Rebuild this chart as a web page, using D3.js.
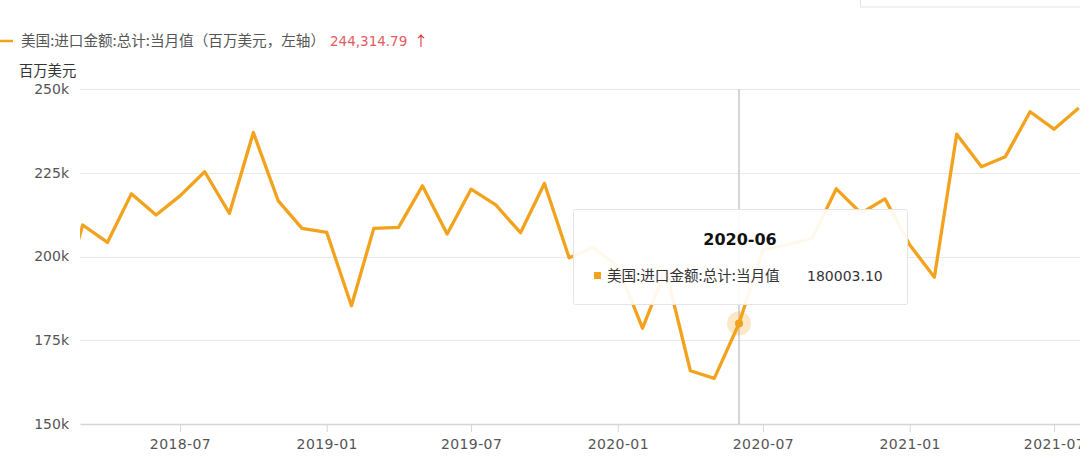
<!DOCTYPE html>
<html>
<head>
<meta charset="utf-8">
<script src="https://cdn.jsdelivr.net/npm/d3@7"></script>
<style>
  html, body { margin: 0; padding: 0; background: #fff; }
  svg { display: block; }
</style>
</head>
<body>
<svg id="chart" width="1080" height="469"></svg>
<script>
// ---------------- data ----------------
const months = [
  "2018-02","2018-03","2018-04","2018-05","2018-06","2018-07","2018-08","2018-09","2018-10","2018-11","2018-12",
  "2019-01","2019-02","2019-03","2019-04","2019-05","2019-06","2019-07","2019-08","2019-09","2019-10","2019-11","2019-12",
  "2020-01","2020-02","2020-03","2020-04","2020-05","2020-06","2020-07","2020-08","2020-09","2020-10","2020-11","2020-12",
  "2021-01","2021-02","2021-03","2021-04","2021-05","2021-06","2021-07","2021-08"
];
const importValues = [
  186000, 209400, 204200, 218700, 212400, 218100, 225300, 212900, 237000, 216700, 208400,
  207200, 185300, 208400, 208700, 221100, 206700, 220100, 215400, 207100, 221800, 199600, 202700,
  197000, 178600, 196000, 165900, 163600, 180003.10, 202000, 203500, 205500, 220200, 212900, 217200,
  203500, 193800, 236500, 226800, 229800, 243200, 238000, 244314.79
];
const yTicks = [150000, 175000, 200000, 225000, 250000];
const xTickMonths = ["2018-07","2019-01","2019-07","2020-01","2020-07","2021-01","2021-07"];
const viewStart = "2018-02-25T14:24:00Z";
const viewEnd = "2021-08-02T14:24:00Z";
const seriesName = "美国:进口金额:总计:当月值";
const legendLabel = "美国:进口金额:总计:当月值（百万美元，左轴）";
const legendValue = "244,314.79";
const yTitle = "百万美元";
const hoverMonth = "2020-06";

// ---------------- setup ----------------
const W = 1080, H = 469;
const plot = { left: 80, right: 1080, top: 89, bottom: 424 };
const orange = "#f2a21c";
const parseMonth = d3.utcParse("%Y-%m");
const data = months.map((m, i) => ({ date: parseMonth(m), value: importValues[i] }));

const x = d3.scaleUtc()
  .domain([new Date(viewStart), new Date(viewEnd)])
  .range([plot.left, plot.right]);
const y = d3.scaleLinear()
  .domain([150000, 250000])
  .range([plot.bottom, plot.top]);

const svg = d3.select("#chart");

// top-right box fragment
svg.append("rect")
  .attr("x", 860.5).attr("y", -10).attr("width", 260).attr("height", 17)
  .attr("fill", "#fff").attr("stroke", "#e3e3e3");

// gridlines
svg.append("g")
  .selectAll("line")
  .data(yTicks.filter(t => t !== 150000))
  .join("line")
  .attr("x1", plot.left).attr("x2", plot.right)
  .attr("y1", d => Math.round(y(d)) + 0.5).attr("y2", d => Math.round(y(d)) + 0.5)
  .attr("stroke", "#e8e8e8").attr("stroke-width", 1);

// y axis labels
const yAxis = d3.axisLeft(y)
  .tickValues(yTicks)
  .tickFormat(d => (d / 1000) + "k")
  .tickSize(0)
  .tickPadding(11);
const gy = svg.append("g")
  .attr("transform", `translate(${plot.left},0)`)
  .call(yAxis);
gy.select(".domain").remove();
gy.selectAll("text")
  .attr("font-family", "DejaVu Sans, Verdana, sans-serif")
  .attr("font-size", 14)
  .attr("fill", "#555");

// x axis
const xAxis = d3.axisBottom(x)
  .tickValues(xTickMonths.map(parseMonth))
  .tickFormat(d3.utcFormat("%Y-%m"))
  .tickSize(8)
  .tickSizeOuter(0)
  .tickPadding(7);
const gx = svg.append("g")
  .attr("transform", `translate(0,${plot.bottom})`)
  .call(xAxis);
gx.select(".domain").attr("stroke", "#d6d6d6").attr("stroke-width", 1.5);
gx.selectAll(".tick line").attr("stroke", "#d6d6d6").attr("stroke-width", 1);
gx.selectAll("text")
  .attr("font-family", "DejaVu Sans, Verdana, sans-serif")
  .attr("font-size", 14)
  .attr("letter-spacing", "0.4px")
  .attr("fill", "#555");

// y title
svg.append("text")
  .attr("x", 19).attr("y", 76)
  .attr("font-family", "Noto Sans CJK SC, sans-serif")
  .attr("font-size", 14.3)
  .attr("fill", "#333")
  .text(yTitle);

// hover line
const hoverDate = parseMonth(hoverMonth);
const hoverDatum = data.find(d => +d.date === +hoverDate);
svg.append("line")
  .attr("x1", x(hoverDate)).attr("x2", x(hoverDate))
  .attr("y1", plot.top).attr("y2", plot.bottom)
  .attr("stroke", "#c8c8c8").attr("stroke-width", 1.5);

// clip
svg.append("clipPath").attr("id", "clip")
  .append("rect")
  .attr("x", plot.left).attr("y", 0)
  .attr("width", plot.right - plot.left).attr("height", H);

// series line
const line = d3.line()
  .x(d => x(d.date))
  .y(d => y(d.value));
svg.append("path")
  .datum(data)
  .attr("clip-path", "url(#clip)")
  .attr("fill", "none")
  .attr("stroke", orange)
  .attr("stroke-width", 3.3)
  .attr("stroke-linejoin", "round")
  .attr("d", line);

// hover marker
svg.append("circle")
  .attr("cx", x(hoverDatum.date)).attr("cy", y(hoverDatum.value))
  .attr("r", 12)
  .attr("fill", orange).attr("fill-opacity", 0.25);
svg.append("circle")
  .attr("cx", x(hoverDatum.date)).attr("cy", y(hoverDatum.value))
  .attr("r", 4)
  .attr("fill", orange);

// tooltip
const tip = svg.append("g");
tip.append("rect")
  .attr("x", 573.5).attr("y", 209.5).attr("width", 334).attr("height", 95)
  .attr("rx", 2)
  .attr("fill", "#fff").attr("fill-opacity", 0.92)
  .attr("stroke", "#e4e4e4");
tip.append("text")
  .attr("x", 740).attr("y", 245)
  .attr("text-anchor", "middle")
  .attr("font-family", "DejaVu Sans, Verdana, sans-serif")
  .attr("font-weight", "bold")
  .attr("font-size", 16)
  .attr("fill", "#111")
  .text(hoverMonth);
tip.append("rect")
  .attr("x", 594).attr("y", 272).attr("width", 7).attr("height", 7)
  .attr("fill", orange);
tip.append("text")
  .attr("x", 607).attr("y", 281)
  .attr("font-family", "Noto Sans CJK SC, sans-serif")
  .attr("font-size", 14.6)
  .attr("fill", "#333")
  .text(seriesName);
tip.append("text")
  .attr("x", 807).attr("y", 281)
  .attr("font-family", "DejaVu Sans, Verdana, sans-serif")
  .attr("font-size", 14)
  .attr("fill", "#333")
  .text(d3.format(".2f")(hoverDatum.value));

// legend
const lg = svg.append("g");
lg.append("line")
  .attr("x1", 0).attr("x2", 13).attr("y1", 41).attr("y2", 41)
  .attr("stroke", orange).attr("stroke-width", 2.5);
lg.append("text")
  .attr("x", 21).attr("y", 46)
  .attr("font-family", "Noto Sans CJK SC, sans-serif")
  .attr("font-size", 14.6)
  .attr("fill", "#555")
  .text(legendLabel);
lg.append("text")
  .attr("x", 330).attr("y", 46)
  .attr("font-family", "DejaVu Sans, Verdana, sans-serif")
  .attr("font-size", 13.5)
  .attr("fill", "#e25b5f")
  .text(legendValue);
lg.append("text")
  .attr("x", 414).attr("y", 46)
  .attr("font-family", "Noto Sans CJK SC, sans-serif")
  .attr("font-size", 14)
  .attr("fill", "#d8282f")
  .text("↑");
</script>
</body>
</html>
